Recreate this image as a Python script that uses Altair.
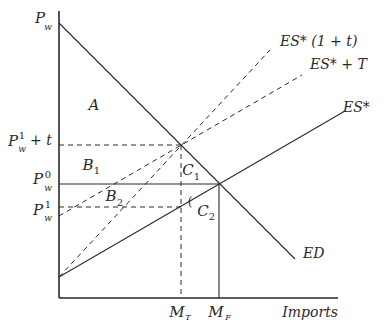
import altair as alt
import pandas as pd

FONT = "DejaVu Serif"
INK = "#2a2a2a"

# --- axes (chart units: x = imports, y = price) ---
axis_series = ["xaxis", "xaxis", "yaxis", "yaxis"]
axis_x = [0, 27.9, 0, 0]
axis_y = [0, 0, 0, 28.7]

# --- solid curves / lines ---
solid_series = ["ED", "ED", "ES*", "ES*", "Pw0", "Pw0", "MF", "MF"]
solid_x = [0, 23.6, 0, 28.6, 0, 16.0, 16.0, 16.0]
solid_y = [27.5, 3.9, 2.1, 18.7, 11.4, 11.4, 11.4, 0]

# --- dashed curves / lines ---
dash_series = ["ES*+T", "ES*+T", "ES*(1+t)", "ES*(1+t)", "Pw1+t", "Pw1+t",
               "Pw1", "Pw1", "MT", "MT"]
dash_x = [0, 24.3, 0, 21.1, 0, 12.2, 0, 12.2, 12.2, 12.2]
dash_y = [8.2, 22.3, 2.1, 24.8, 15.3, 15.3, 9.1, 9.1, 15.3, 0]

# --- labels ---
label_text = ["P", "w", "P", "1", "w", "+ t", "P", "0", "w", "P", "1", "w",
              "A", "B", "1", "B", "2", "C", "1", "C", "2", "(",
              "ED", "ES*", "ES* + T", "ES* (1 + t)",
              "M", "T", "M", "F", "Imports"]
label_x = [-1.9, -1.1, -4.6, -3.7, -3.7, -2.9, -2.1, -1.1, -1.1, -2.1, -1.1, -1.1,
           3.5, 2.9, 3.8, 5.2, 6.1, 12.9, 13.8, 14.4, 15.3, 13.1,
           24.4, 28.4, 25.1, 22.1,
           11.8, 12.9, 15.7, 16.9, 27.9]
label_y = [28.0, 27.1, 15.7, 16.2, 14.9, 15.7, 11.9, 12.3, 11.0, 8.8, 9.3, 8.0,
           19.3, 13.3, 12.7, 10.2, 9.5, 12.8, 12.1, 8.7, 8.1, 9.6,
           4.4, 19.0, 23.3, 25.6,
           -1.4, -2.0, -1.4, -2.0, -1.5]
label_size = [15, 9, 15, 10, 9, 14, 15, 10, 9, 15, 10, 9,
              15, 15, 10, 15, 10, 15, 10, 15, 10, 12,
              14, 14, 14, 14,
              15, 8, 15, 8, 14]
label_align = ["center"] * 5 + ["left"] + ["center"] * 16 + ["left"] * 4 + \
              ["center"] * 4 + ["right"]
label_style = ["italic", "italic", "italic", "normal", "italic", "italic",
               "italic", "normal", "italic", "italic", "normal", "italic",
               "italic", "italic", "normal", "italic", "normal",
               "italic", "normal", "italic", "normal", "normal",
               "italic", "italic", "italic", "italic",
               "italic", "italic", "italic", "italic", "italic"]

axes_df = pd.DataFrame({"s": axis_series, "x": axis_x, "y": axis_y,
                        "o": list(range(len(axis_x)))})
solid_df = pd.DataFrame({"s": solid_series, "x": solid_x, "y": solid_y,
                         "o": list(range(len(solid_x)))})
dash_df = pd.DataFrame({"s": dash_series, "x": dash_x, "y": dash_y,
                        "o": list(range(len(dash_x)))})
lab_df = pd.DataFrame({"t": label_text, "x": label_x, "y": label_y,
                       "fs": label_size, "al": label_align, "st": label_style})

xs = alt.Scale(domain=[0, 27.9], nice=False, zero=False)
ys = alt.Scale(domain=[0, 28.7], nice=False, zero=False)
X = alt.X("x:Q", scale=xs, axis=None)
Y = alt.Y("y:Q", scale=ys, axis=None)

axes = alt.Chart(axes_df).mark_line(color=INK, strokeWidth=1.6).encode(
    x=X, y=Y, detail="s:N", order="o:Q")
solid = alt.Chart(solid_df).mark_line(color=INK, strokeWidth=1.1).encode(
    x=X, y=Y, detail="s:N", order="o:Q")
dashed = alt.Chart(dash_df).mark_line(color=INK, strokeWidth=1.0,
                                      strokeDash=[5, 4]).encode(
    x=X, y=Y, detail="s:N", order="o:Q")

texts = []
for al in ["left", "center", "right"]:
    for st in ["italic", "normal"]:
        texts.append(
            alt.Chart(lab_df).transform_filter(
                (alt.datum.al == al) & (alt.datum.st == st)).mark_text(
                font=FONT, fontStyle=st, color=INK, align=al,
                baseline="middle").encode(
                x=X, y=Y, text="t:N",
                size=alt.Size("fs:Q", scale=None, legend=None))
        )

chart = alt.layer(axes, solid, dashed, *texts).properties(
    width=279, height=287,
    autosize=alt.AutoSizeParams(type="none"),
    padding={"left": 51, "top": 3, "right": 38, "bottom": 24},
).configure_view(stroke=None)

chart.save("out.html", embed_options={"renderer": "svg", "actions": False})
